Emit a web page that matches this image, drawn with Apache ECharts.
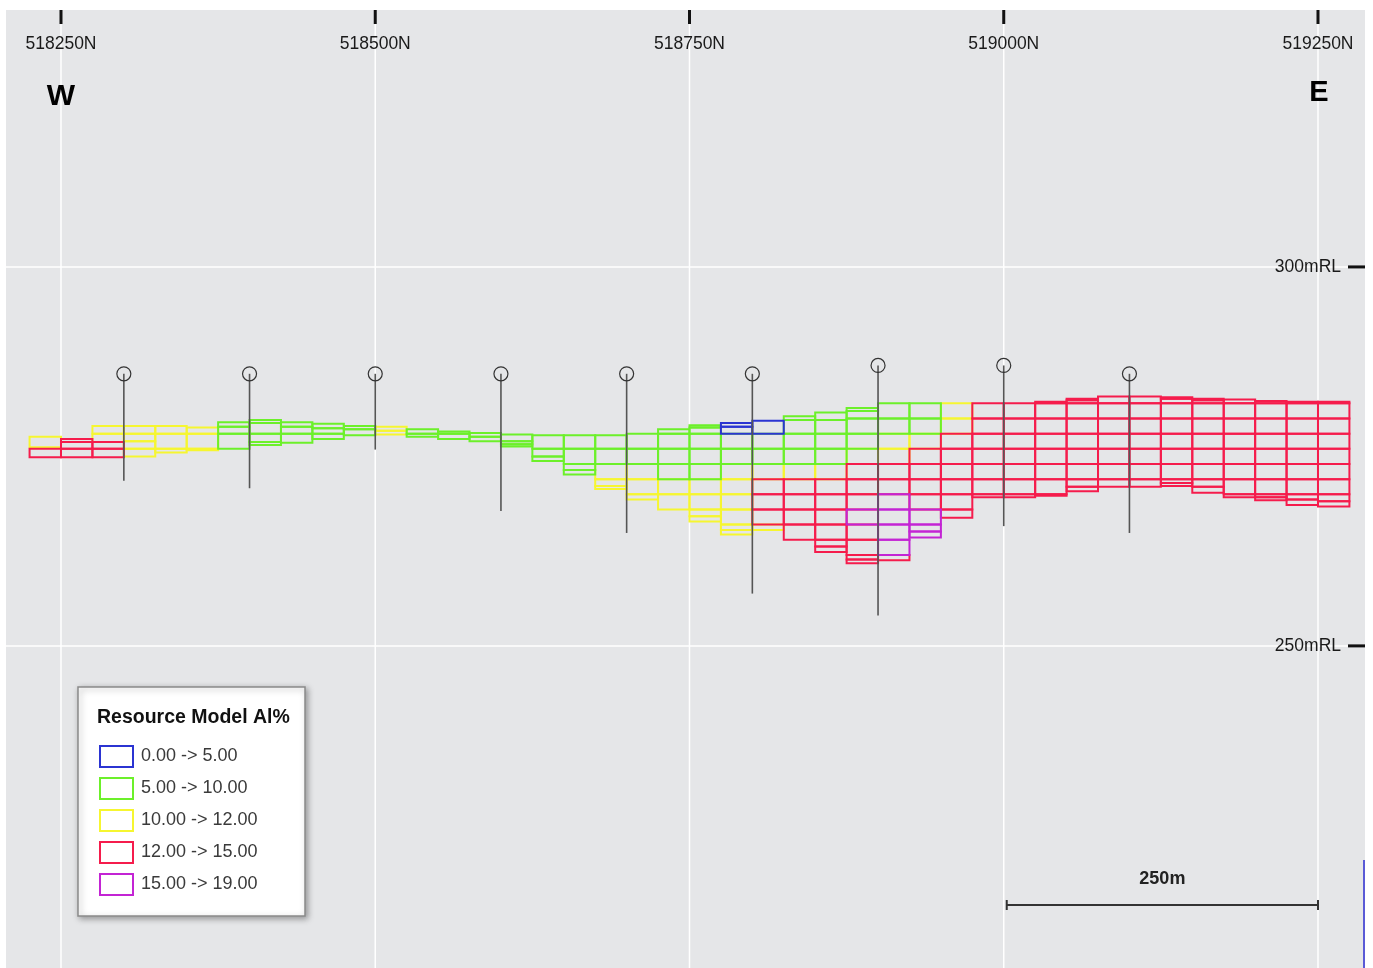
<!DOCTYPE html>
<html><head><meta charset="utf-8">
<script src="https://cdn.jsdelivr.net/npm/echarts@6/dist/echarts.min.js"></script>
<style>html,body{margin:0;padding:0;background:#fff;}#c{width:1373px;height:968px;}</style>
</head><body><div id="c"></div>
<script>
// ---- axis ticks ----
const xTicks = [518250, 518500, 518750, 519000, 519250];
const xTickLabels = ['518250N', '518500N', '518750N', '519000N', '519250N'];
const yTicks = [300, 250];
const yTickLabels = ['300mRL', '250mRL'];
const scaleBar = [519000, 519250];
const scaleBarLabel = '250m';

// ---- grade classes ----
const gradeNames = ['0.00 -> 5.00', '5.00 -> 10.00', '10.00 -> 12.00', '12.00 -> 15.00', '15.00 -> 19.00'];
const legendTitle = 'Resource Model Al%';
const blockWidth = 25; // m

// blocks: [westEdgeEasting, topRL, bottomRL]
const blocksBlue = [
  [518775, 279.4, 278.9], [518775, 278.9, 278.0], [518800, 279.7, 278.0]
];
const blocksGreen = [
  [518375, 279.5, 278.9], [518375, 278.9, 278.0], [518375, 278.0, 276.0],
  [518400, 279.8, 279.4], [518400, 279.4, 278.0], [518400, 278.0, 276.9], [518400, 276.9, 276.5],
  [518425, 279.5, 278.9], [518425, 278.9, 278.0], [518425, 278.0, 276.8],
  [518450, 279.3, 278.7], [518450, 278.7, 278.0], [518450, 278.0, 277.3],
  [518475, 279.0, 278.6], [518475, 278.6, 277.8],
  [518525, 278.6, 278.0], [518525, 278.0, 277.6],
  [518550, 278.3, 278.0], [518550, 278.0, 277.3],
  [518575, 278.1, 277.6], [518575, 277.6, 277.0],
  [518600, 277.9, 277.0], [518600, 277.0, 276.6], [518600, 276.6, 276.3],
  [518625, 277.8, 276.0], [518625, 276.0, 275.0], [518625, 275.0, 274.4],
  [518650, 277.8, 276.0], [518650, 276.0, 274.0], [518650, 274.0, 273.2], [518650, 273.2, 272.6],
  [518675, 277.8, 276.0], [518675, 276.0, 274.0],
  [518700, 278.0, 276.0], [518700, 276.0, 274.0],
  [518725, 278.6, 278.0], [518725, 278.0, 276.0], [518725, 276.0, 274.0], [518725, 274.0, 272.0],
  [518750, 279.1, 278.8], [518750, 278.8, 278.0], [518750, 278.0, 276.0], [518750, 276.0, 274.0], [518750, 274.0, 272.0],
  [518775, 278.0, 276.0], [518775, 276.0, 274.0],
  [518800, 278.0, 276.0], [518800, 276.0, 274.0],
  [518825, 280.3, 279.8], [518825, 279.8, 278.0], [518825, 278.0, 276.0], [518825, 276.0, 274.0],
  [518850, 280.8, 279.8], [518850, 279.8, 278.0], [518850, 278.0, 276.0], [518850, 276.0, 274.0],
  [518875, 281.4, 281.0], [518875, 281.0, 280.0], [518875, 280.0, 278.0], [518875, 278.0, 276.0],
  [518900, 282.0, 280.0], [518900, 280.0, 278.0],
  [518925, 282.0, 280.0], [518925, 280.0, 278.0]
];
const blocksYellow = [
  [518225, 277.6, 276.2],
  [518275, 279.0, 278.0], [518275, 278.0, 276.9],
  [518300, 279.0, 278.0], [518300, 278.0, 277.0], [518300, 277.0, 276.0], [518300, 276.0, 275.0],
  [518325, 279.0, 278.0], [518325, 278.0, 276.0], [518325, 276.0, 275.5],
  [518350, 278.8, 278.0], [518350, 278.0, 276.0], [518350, 276.0, 275.8],
  [518500, 278.9, 278.4], [518500, 278.4, 277.9],
  [518675, 274.0, 272.0], [518675, 272.0, 271.1], [518675, 271.1, 270.7],
  [518700, 274.0, 272.0], [518700, 272.0, 270.0], [518700, 270.0, 269.3],
  [518725, 272.0, 270.0], [518725, 270.0, 268.0],
  [518750, 272.0, 270.0], [518750, 270.0, 268.0], [518750, 268.0, 267.1], [518750, 267.1, 266.4],
  [518775, 274.0, 272.0], [518775, 272.0, 270.0], [518775, 270.0, 268.0], [518775, 268.0, 266.0], [518775, 266.0, 265.3], [518775, 265.3, 264.7],
  [518800, 274.0, 272.0], [518800, 266.0, 265.3],
  [518825, 274.0, 272.0],
  [518850, 274.0, 272.0],
  [518875, 276.0, 274.0],
  [518900, 278.0, 276.0], [518900, 276.0, 274.0],
  [518925, 278.0, 276.0],
  [518950, 282.0, 280.0], [518950, 280.0, 278.0]
];
const blocksRed = [
  [518225, 276.0, 274.9],
  [518250, 277.3, 276.9], [518250, 276.9, 276.0], [518250, 276.0, 274.9],
  [518275, 276.9, 276.0], [518275, 276.0, 274.9],
  [518800, 272.0, 270.0], [518800, 270.0, 268.0], [518800, 268.0, 266.0],
  [518825, 272.0, 270.0], [518825, 270.0, 268.0], [518825, 268.0, 266.0], [518825, 266.0, 264.0],
  [518850, 272.0, 270.0], [518850, 270.0, 268.0], [518850, 268.0, 266.0], [518850, 266.0, 264.0], [518850, 264.0, 263.1], [518850, 263.1, 262.4],
  [518875, 274.0, 272.0], [518875, 272.0, 270.0], [518875, 270.0, 268.0], [518875, 266.0, 264.0], [518875, 264.0, 262.0], [518875, 262.0, 261.4], [518875, 261.4, 260.9],
  [518900, 274.0, 272.0], [518900, 272.0, 270.0], [518900, 262.0, 261.3],
  [518925, 276.0, 274.0], [518925, 274.0, 272.0], [518925, 272.0, 270.0], [518925, 270.0, 268.0],
  [518950, 278.0, 276.0], [518950, 276.0, 274.0], [518950, 274.0, 272.0], [518950, 272.0, 270.0], [518950, 270.0, 268.0], [518950, 268.0, 266.9],
  [518975, 282.0, 280.0], [518975, 280.0, 278.0], [518975, 278.0, 276.0], [518975, 276.0, 274.0], [518975, 274.0, 272.0], [518975, 272.0, 270.0], [518975, 270.0, 269.6],
  [519000, 282.0, 280.0], [519000, 280.0, 278.0], [519000, 278.0, 276.0], [519000, 276.0, 274.0], [519000, 274.0, 272.0], [519000, 272.0, 270.0], [519000, 270.0, 269.6],
  [519025, 282.2, 282.0], [519025, 282.0, 280.0], [519025, 280.0, 278.0], [519025, 278.0, 276.0], [519025, 276.0, 274.0], [519025, 274.0, 272.0], [519025, 272.0, 270.0], [519025, 270.0, 269.8],
  [519050, 282.6, 282.4], [519050, 282.4, 282.0], [519050, 282.0, 280.0], [519050, 280.0, 278.0], [519050, 278.0, 276.0], [519050, 276.0, 274.0], [519050, 274.0, 272.0], [519050, 272.0, 271.0], [519050, 271.0, 270.4],
  [519075, 282.9, 282.0], [519075, 282.0, 280.0], [519075, 280.0, 278.0], [519075, 278.0, 276.0], [519075, 276.0, 274.0], [519075, 274.0, 272.0], [519075, 272.0, 271.0],
  [519100, 282.9, 282.0], [519100, 282.0, 280.0], [519100, 280.0, 278.0], [519100, 278.0, 276.0], [519100, 276.0, 274.0], [519100, 274.0, 272.0], [519100, 272.0, 271.0],
  [519125, 282.8, 282.6], [519125, 282.6, 282.0], [519125, 282.0, 280.0], [519125, 280.0, 278.0], [519125, 278.0, 276.0], [519125, 276.0, 274.0], [519125, 274.0, 272.0], [519125, 272.0, 271.5], [519125, 271.5, 271.1],
  [519150, 282.6, 282.4], [519150, 282.4, 282.0], [519150, 282.0, 280.0], [519150, 280.0, 278.0], [519150, 278.0, 276.0], [519150, 276.0, 274.0], [519150, 274.0, 272.0], [519150, 272.0, 271.0], [519150, 271.0, 270.2],
  [519175, 282.5, 282.0], [519175, 282.0, 280.0], [519175, 280.0, 278.0], [519175, 278.0, 276.0], [519175, 276.0, 274.0], [519175, 274.0, 272.0], [519175, 272.0, 270.0], [519175, 270.0, 269.6],
  [519200, 282.3, 282.0], [519200, 282.0, 280.0], [519200, 280.0, 278.0], [519200, 278.0, 276.0], [519200, 276.0, 274.0], [519200, 274.0, 272.0], [519200, 272.0, 270.0], [519200, 270.0, 269.6], [519200, 269.6, 269.2],
  [519225, 282.2, 282.0], [519225, 282.0, 280.0], [519225, 280.0, 278.0], [519225, 278.0, 276.0], [519225, 276.0, 274.0], [519225, 274.0, 272.0], [519225, 272.0, 270.0], [519225, 270.0, 269.3], [519225, 269.3, 268.6],
  [519250, 282.2, 282.0], [519250, 282.0, 280.0], [519250, 280.0, 278.0], [519250, 278.0, 276.0], [519250, 276.0, 274.0], [519250, 274.0, 272.0], [519250, 272.0, 270.0], [519250, 270.0, 269.1], [519250, 269.1, 268.4]
];
const blocksMagenta = [
  [518875, 268.0, 266.0],
  [518900, 270.0, 268.0], [518900, 268.0, 266.0], [518900, 266.0, 264.0], [518900, 264.0, 262.0],
  [518925, 268.0, 266.0], [518925, 266.0, 265.1], [518925, 265.1, 264.3]
];

// drill holes
const drillEasting = [518300, 518400, 518500, 518600, 518700, 518800, 518900, 519000, 519100];
const drillCollarRL = [285.9, 285.9, 285.9, 285.9, 285.9, 285.9, 287.0, 287.0, 285.9];
const drillEndRL    = [271.8, 270.8, 275.9, 267.8, 264.9, 256.9, 254.0, 265.8, 264.9];

// ---- styling ----
const gradeColors = ['#2b34d2', '#6cf02a', '#f6f630', '#f51c4c', '#c324d4'];
const FONT = 'Liberation Sans, Arial, sans-serif';

const chart = echarts.init(document.getElementById('c'), null, {renderer: 'canvas'});

function blockSeries(name, data, color, z) {
  return {
    name: name, type: 'custom', data: data, z: z,
    itemStyle: {color: color},
    encode: {x: 0, y: [1, 2]},
    renderItem: function (params, api) {
      const x0 = api.value(0);
      const p1 = api.coord([x0, api.value(1)]);
      const p2 = api.coord([x0 + blockWidth, api.value(2)]);
      return {
        type: 'rect',
        shape: {x: p1[0], y: p1[1], width: p2[0] - p1[0], height: p2[1] - p1[1]},
        style: {fill: null, stroke: color, lineWidth: 2}
      };
    }
  };
}

const drillData = drillEasting.map((e, i) => [e, drillCollarRL[i], drillEndRL[i]]);

const option = {
  animation: false,
  backgroundColor: '#ffffff',
  grid: {left: 6, top: 10, width: 1359, height: 958, show: true, backgroundColor: '#e5e6e8', borderWidth: 0},
  xAxis: {type: 'value', min: 518206.25, max: 519287.4, show: false},
  yAxis: {type: 'value', min: 207.5, max: 333.9, show: false},
  legend: {
    orient: 'vertical', left: 99, top: 745, padding: 0, itemWidth: 33, itemHeight: 21, itemGap: 9,
    icon: 'rect', z: 10, selectedMode: false,
    textStyle: {fontFamily: FONT, fontSize: 18, lineHeight: 21, color: '#3a3a3a', padding: [0, 0, 0, 3]},
    data: gradeNames.map((n, i) => ({name: n, itemStyle: {color: 'rgba(0,0,0,0)', borderColor: gradeColors[i], borderWidth: 2}}))
  },
  graphic: [
    {type: 'rect', z: 5, shape: {x: 78, y: 687, width: 227, height: 229},
     style: {fill: '#ffffff', stroke: '#8a8a8a', lineWidth: 1.5, shadowBlur: 6, shadowOffsetX: 2, shadowOffsetY: 2, shadowColor: 'rgba(0,0,0,0.35)'}},
    {type: 'text', z: 6, style: {x: 97, y: 718, text: legendTitle, font: 'bold 19.5px ' + FONT, fill: '#111', verticalAlign: 'middle'}},
    {type: 'text', z: 6, style: {x: 61, y: 97, text: 'W', font: 'bold 30px ' + FONT, fill: '#000', align: 'center', verticalAlign: 'middle'}},
    {type: 'text', z: 6, style: {x: 1319, y: 93, text: 'E', font: 'bold 29px ' + FONT, fill: '#000', align: 'center', verticalAlign: 'middle'}},
    {type: 'line', z: 6, shape: {x1: 1364, y1: 860, x2: 1364, y2: 968}, style: {stroke: '#5a5ad6', lineWidth: 2}}
  ],
  series: [
    { // grid lines, ticks, labels, scale bar
      type: 'custom', z: 1, silent: true,
      data: [0],
      renderItem: function (params, api) {
        const cs = params.coordSys;
        const children = [];
        xTicks.forEach((v, i) => {
          const x = api.coord([v, yTicks[0]])[0];
          children.push({type: 'line', shape: {x1: x, y1: cs.y, x2: x, y2: cs.y + cs.height}, style: {stroke: '#ffffff', lineWidth: 1.5}});
          children.push({type: 'rect', shape: {x: x - 1.5, y: cs.y, width: 3, height: 14}, style: {fill: '#111'}});
          children.push({type: 'text', style: {x: x, y: 44, text: xTickLabels[i], font: '17.5px ' + FONT, fill: '#1a1a1a', align: 'center', verticalAlign: 'middle'}});
        });
        yTicks.forEach((v, i) => {
          const y = api.coord([xTicks[0], v])[1];
          children.push({type: 'line', shape: {x1: cs.x, y1: y, x2: cs.x + cs.width, y2: y}, style: {stroke: '#ffffff', lineWidth: 1.5}});
          children.push({type: 'rect', shape: {x: cs.x + cs.width - 17, y: y - 1.5, width: 17, height: 3}, style: {fill: '#111'}});
          children.push({type: 'text', style: {x: cs.x + cs.width - 24, y: y, text: yTickLabels[i], font: '17.5px ' + FONT, fill: '#1a1a1a', align: 'right', verticalAlign: 'middle'}});
        });
        const sx0 = api.coord([scaleBar[0], yTicks[0]])[0] + 3;
        const sx1 = api.coord([scaleBar[1], yTicks[0]])[0];
        const sy = 905;
        children.push({type: 'line', shape: {x1: sx0, y1: sy, x2: sx1, y2: sy}, style: {stroke: '#333', lineWidth: 2}});
        children.push({type: 'line', shape: {x1: sx0, y1: sy - 5, x2: sx0, y2: sy + 5}, style: {stroke: '#333', lineWidth: 2}});
        children.push({type: 'line', shape: {x1: sx1, y1: sy - 5, x2: sx1, y2: sy + 5}, style: {stroke: '#333', lineWidth: 2}});
        children.push({type: 'text', style: {x: (sx0 + sx1) / 2, y: 879, text: scaleBarLabel, font: 'bold 18px ' + FONT, fill: '#222', align: 'center', verticalAlign: 'middle'}});
        return {type: 'group', children: children};
      }
    },
    blockSeries(gradeNames[2], blocksYellow, gradeColors[2], 2),
    blockSeries(gradeNames[1], blocksGreen, gradeColors[1], 3),
    blockSeries(gradeNames[3], blocksRed, gradeColors[3], 4),
    blockSeries(gradeNames[4], blocksMagenta, gradeColors[4], 5),
    blockSeries(gradeNames[0], blocksBlue, gradeColors[0], 6),
    { // drill holes
      type: 'custom', z: 8, silent: true, data: drillData,
      encode: {x: 0, y: [1, 2]},
      renderItem: function (params, api) {
        const top = api.coord([api.value(0), api.value(1)]);
        const bot = api.coord([api.value(0), api.value(2)]);
        return {type: 'group', children: [
          {type: 'line', shape: {x1: top[0], y1: top[1], x2: bot[0], y2: bot[1]}, style: {stroke: '#555', lineWidth: 1.6}},
          {type: 'circle', shape: {cx: top[0], cy: top[1], r: 7}, style: {fill: null, stroke: '#333', lineWidth: 1.2}}
        ]};
      }
    }
  ]
};
chart.setOption(option);
</script></body></html>
